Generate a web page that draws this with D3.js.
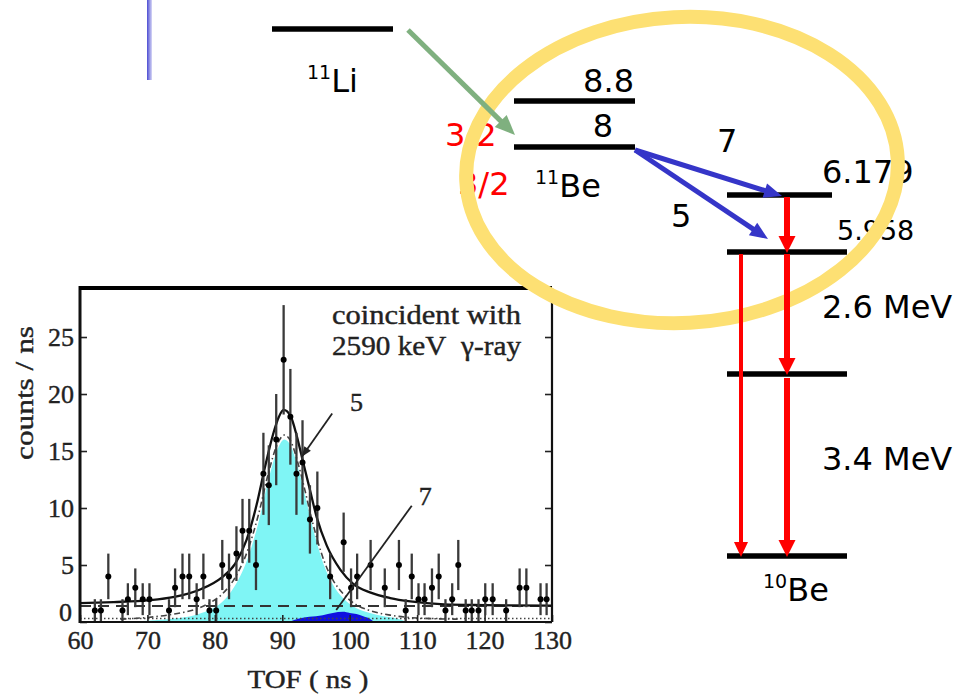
<!DOCTYPE html>
<html><head><meta charset="utf-8">
<script src="https://cdn.jsdelivr.net/npm/d3@7"></script>
<style>
html,body{margin:0;padding:0;background:#fff;}
svg{display:block;}
</style></head>
<body>
<svg id="c" width="956" height="695"></svg>
<script>
// ================= spectrum data (TOF coincident with 2590 keV gamma) =================
const tof = [62.2,63.1,64.2,66.3,67.1,68.2,69.3,70.3,73.2,74.1,75.2,76.2,77.3,78.3,79.2,80.2,
  81.1,82.1,83.2,84.1,85.1,86.1,87.2,88.0,89.1,90.2,91.2,92.1,93.0,94.1,95.2,97.1,99.1,100.2,
  101.1,103.1,105.2,107.3,108.3,109.2,110.2,111.1,112.2,113.2,114.2,115.2,116.1,117.2,118.1,
  119.1,120.1,121.2,123.2,125.2,126.2,128.3,129.2];
const counts = [1,1,4,1,2,3,2,2, 1,3,4,4,2,4,1,1, 5,4,6,8,8,5, 13,12,16,23,18,13,14,9,10,
  4,7,3,4,5,3,5,1,4, 2,2,3,4,1,2,5, 1,1,1,2,2,1, 3,3,2,2];
const countErr = [1,1,2,1,1.4,1.7,1.4,1.4, 1,1.7,2,2,1.4,2,1,1, 2.2,2,2.4,2.8,2.8,2.2,
  3.6,3.5,4,4.8,4.2,3.6,3.7,3,3.2, 2,2.6,1.7,2,2.2,1.7,2.2,1,2, 1.4,1.4,1.7,2,1,1.4,2.2,
  1,1,1,1.4,1.4,1, 1.7,1.7,1.4,1.4];
// total fit (solid)
const fitTotal = [[60,1.65],[65,1.75],[70,1.9],[74,2.2],[78,2.9],[81,3.9],[83,5.1],[84.7,7.2],
  [86.2,10.3],[87.4,13.5],[88.7,16.6],[89.5,18.0],[90.2,18.6],[91.2,18.1],[92.2,16.2],[93.1,14.0],
  [94.1,11.6],[95.1,9.2],[96.6,6.7],[98.6,4.6],[100.6,3.3],[103,2.6],[106,2.1],[109,1.8],
  [114,1.55],[120,1.48],[130,1.43]];
// peak-5 component (dash-dot)
const fitPeak5 = [[66,0.25],[70,0.4],[74,0.7],[77,1.1],[79,1.6],[81,2.4],[83,3.9],[85,6.5],
  [86.5,9.5],[88,13.2],[89.2,15.5],[90.3,16.4],[91.3,15.8],[92.3,14.0],[93.3,11.7],[94.3,9.2],
  [95.3,7.0],[96.3,5.2],[97.5,3.7],[99,2.5],[101,1.5],[103,1.0],[106,0.6],[110,0.35],[116,0.25]];
// filled component 5 (cyan)
const area5 = [[67,0],[70,0.1],[74,0.3],[77,0.6],[79,1.0],[81,1.7],[83,3.2],[85,5.8],[86.5,8.8],
  [88,12.6],[89.2,15.0],[90.3,16.0],[91.3,15.4],[92.3,13.6],[93.3,11.3],[94.3,8.8],[95.3,6.6],
  [96.3,4.8],[97.5,3.3],[99,2.1],[101,1.2],[103,0.8],[105,0.5],[107,0.3],[108.5,0]];
// filled component 7 (blue)
const area7 = [[91,0],[92.5,0.3],[94,0.45],[96,0.6],[97.5,0.8],[99,0.9],[100,0.8],[101,0.7],
  [102,0.5],[103.2,0.2],[103.6,0]];
const bgLevel = [[60,1.4],[130,1.4]];
const floorLevel = [[60,0.3],[130,0.3]];
const xTicks = [60,70,80,90,100,110,120,130];
const yTicks = [0,5,10,15,20,25];
const legendLines = ["coincident with", "2590 keV\u00a0\u00a0\u03b3-ray"];
const xTitle = "TOF ( ns )";
const yTitle = "counts / ns";
const peakNotes = [
  {text:"5", at:[101.0,18.5], from:[97.4,18.3], to:[92.9,14.5], head:true},
  {text:"7", at:[111.2,10.3], from:[109.2,10.2], to:[98.0,1.05], head:false}
];

// ================= level scheme data =================
const levelIds = ["Li11","Be11_8.8","Be11_8","Be10_6.179","Be10_5.958","Be10_3.368","Be10_0"];
const levelEnergyText = ["", "8.8", "8", "6.179", "5.958", "", ""];
const nuclei = [{mass:"11", sym:"Li"}, {mass:"11", sym:"Be"}, {mass:"10", sym:"Be"}];
const spinLabels = ["3/2", "3/2"];
const neutronBranches = [{label:"7", to:"Be10_6.179"}, {label:"5", to:"Be10_5.958"}];
const gammaLines = [
  {from:"Be10_6.179", to:"Be10_5.958", kind:"thick"},
  {from:"Be10_5.958", to:"Be10_3.368", kind:"thick"},
  {from:"Be10_3.368", to:"Be10_0", kind:"thick"},
  {from:"Be10_5.958", to:"Be10_0", kind:"thin"}
];
const gammaLabels = ["2.6 MeV", "3.4 MeV"];

// ================= drawing =================
const svg = d3.select("#c");

// decorative slide bar
const defs = svg.append("defs");
const lg = defs.append("linearGradient").attr("id","bar").attr("x1","0").attr("x2","1");
lg.append("stop").attr("offset","0").attr("stop-color","#4b4bd2");
lg.append("stop").attr("offset","1").attr("stop-color","#d8d8f6");
svg.append("rect").attr("x",147).attr("y",0).attr("width",5).attr("height",80).attr("fill","url(#bar)");

// ---------- spectrum ----------
const x = d3.scaleLinear().domain([60,130]).range([80,552]);
const y = d3.scaleLinear().domain([0,29.3]).range([622,288]);
const sp = svg.append("g");
defs.append("clipPath").attr("id","plot").append("rect")
  .attr("x",80).attr("y",288).attr("width",472).attr("height",334);
const plot = sp.append("g").attr("clip-path","url(#plot)");

const area = d3.area().x(d=>x(d[0])).y0(y(0)).y1(d=>y(d[1])).curve(d3.curveMonotoneX);
const line = d3.line().x(d=>x(d[0])).y(d=>y(d[1])).curve(d3.curveMonotoneX);

plot.append("path").attr("d",area(area5)).attr("fill","#7ff5f5");
plot.append("path").attr("d",area(area7)).attr("fill","#1010e0");
plot.append("path").attr("d",line(floorLevel)).attr("fill","none").attr("stroke","#444")
  .attr("stroke-width",1.5).attr("stroke-dasharray","1.5,2.5");
plot.append("path").attr("d",line(bgLevel)).attr("fill","none").attr("stroke","#333")
  .attr("stroke-width",2).attr("stroke-dasharray","11,7");
plot.append("path").attr("d",line(fitPeak5)).attr("fill","none").attr("stroke","#444")
  .attr("stroke-width",1.6).attr("stroke-dasharray","6,3,1.5,3");
plot.append("path").attr("d",line(fitTotal)).attr("fill","none").attr("stroke","#111")
  .attr("stroke-width",2.3);

// error bars and points
const pts = tof.map((t,i)=>({t, c:counts[i], e:countErr[i]}));
plot.selectAll("line.err").data(pts).enter().append("line").attr("class","err")
  .attr("x1",d=>x(d.t)).attr("x2",d=>x(d.t))
  .attr("y1",d=>y(Math.max(0,d.c-d.e))).attr("y2",d=>y(d.c+d.e))
  .attr("stroke","#3a3a3a").attr("stroke-width",2.3);
plot.selectAll("circle.pt").data(pts).enter().append("circle").attr("class","pt")
  .attr("cx",d=>x(d.t)).attr("cy",d=>y(d.c)).attr("r",3).attr("fill","#000");

// annotations 5 and 7
const serif = "'Liberation Serif', 'DejaVu Serif', serif";
peakNotes.forEach(n=>{
  sp.append("line").attr("x1",x(n.from[0])).attr("y1",y(n.from[1]))
    .attr("x2",x(n.to[0])).attr("y2",y(n.to[1])).attr("stroke","#222").attr("stroke-width",1.8);
  if(n.head){
    const ang = Math.atan2(y(n.to[1])-y(n.from[1]), x(n.to[0])-x(n.from[0]));
    const L=10, W=4;
    const tx=x(n.to[0]), ty=y(n.to[1]);
    const bx=tx-L*Math.cos(ang), by=ty-L*Math.sin(ang);
    sp.append("path").attr("d",`M${tx},${ty}L${bx-W*Math.sin(ang)},${by+W*Math.cos(ang)}L${bx+W*Math.sin(ang)},${by-W*Math.cos(ang)}Z`).attr("fill","#222");
  }
  sp.append("text").attr("x",x(n.at[0])).attr("y",y(n.at[1])).attr("text-anchor","middle")
    .attr("font-family",serif).attr("font-size",26).attr("fill","#222")
    .attr("stroke","#222").attr("stroke-width",0.4).text(n.text);
});

// legend text
sp.selectAll("text.leg").data(legendLines).enter().append("text").attr("class","leg")
  .attr("x",332).attr("y",(d,i)=>324+i*31).attr("font-family",serif).attr("font-size",27)
  .attr("fill","#222").attr("stroke","#222").attr("stroke-width",0.4)
  .attr("textLength",189).attr("lengthAdjust","spacingAndGlyphs").text(d=>d);

// axes
const xAxis = d3.axisBottom(x).tickValues(xTicks).tickSize(-7).tickPadding(9).tickFormat(d3.format("d"));
const gx = sp.append("g").attr("transform",`translate(0,${y(0)})`).call(xAxis);
gx.select(".domain").remove();
gx.selectAll("line").attr("stroke","#222").attr("stroke-width",1.6);
gx.selectAll("text").attr("font-family",serif).attr("font-size",26).attr("fill","#222")
  .attr("stroke","#222").attr("stroke-width",0.4);
const yAxis = d3.axisLeft(y).tickValues(yTicks).tickSize(-7).tickPadding(6).tickFormat(d3.format("d"));
const gy = sp.append("g").attr("transform",`translate(${x(60)},0)`).call(yAxis);
gy.select(".domain").remove();
gy.selectAll("line").attr("stroke","#222").attr("stroke-width",1.6);
gy.selectAll("text").attr("font-family",serif).attr("font-size",26).attr("fill","#222")
  .attr("stroke","#222").attr("stroke-width",0.4);
gy.selectAll(".tick").filter(d=>d===0).select("text").attr("dy","-0.05em").attr("dx","-2");
const yAxisR = d3.axisRight(y).tickValues(yTicks).tickSize(-7).tickFormat("");
const gyr = sp.append("g").attr("transform",`translate(${x(130)},0)`).call(yAxisR);
gyr.select(".domain").remove();
gyr.selectAll("line").attr("stroke","#222").attr("stroke-width",1.6);

// frame
sp.append("line").attr("x1",x(60)).attr("x2",x(60)).attr("y1",y(29.3)-2).attr("y2",y(0)+1).attr("stroke","#111").attr("stroke-width",3);
sp.append("line").attr("x1",x(60)).attr("x2",x(130)).attr("y1",y(0)).attr("y2",y(0)).attr("stroke","#111").attr("stroke-width",2.2);
sp.append("line").attr("x1",x(130)).attr("x2",x(130)).attr("y1",y(29.3)).attr("y2",y(0)).attr("stroke","#111").attr("stroke-width",2.2);
sp.append("line").attr("x1",x(60)-1).attr("x2",x(130)).attr("y1",y(29.3)).attr("y2",y(29.3)).attr("stroke","#000").attr("stroke-width",4);

// titles
sp.append("text").attr("x",308).attr("y",688).attr("text-anchor","middle")
  .attr("font-family",serif).attr("font-size",26).attr("fill","#222")
  .attr("stroke","#222").attr("stroke-width",0.4)
  .attr("textLength",121).attr("lengthAdjust","spacingAndGlyphs").text(xTitle);
sp.append("text").attr("transform","translate(33,393) rotate(-90)").attr("text-anchor","middle")
  .attr("font-family",serif).attr("font-size",26).attr("fill","#222")
  .attr("stroke","#222").attr("stroke-width",0.4)
  .attr("textLength",134).attr("lengthAdjust","spacingAndGlyphs").text(yTitle);

// ---------- level scheme ----------
const sans = "'DejaVu Sans', Verdana, sans-serif";
const levelY = d3.scaleOrdinal().domain(levelIds).range([29,101,147,195,252,374,556]);
const levelX0 = d3.scaleOrdinal().domain(levelIds).range([272,514,514,727,727,727,727]);
const levelX1 = d3.scaleOrdinal().domain(levelIds).range([393,635,635,832,847,847,847]);
const gammaX = d3.scaleOrdinal().domain(["thick","thin"]).range([787,741]);
const gammaW = d3.scaleOrdinal().domain(["thick","thin"]).range([6,4]);
const gammaHead = d3.scaleOrdinal().domain(["thick","thin"]).range([[17,17],[15,14]]);

const ls = svg.append("g");

// red spin labels (under the ellipse)
ls.selectAll("text.spin").data(spinLabels).enter().append("text").attr("class","spin")
  .attr("x",(d,i)=>[445,458][i]).attr("y",(d,i)=>[146,195][i])
  .attr("font-family",sans).attr("font-size",32).attr("fill","#ff0000").text(d=>d);

// energy labels
const eLabPos = {"Be11_8.8":[634,92,"end",32],"Be11_8":[613,137,"end",32],
  "Be10_6.179":[822,183,"start",32],"Be10_5.958":[837,240,"start",27]};
levelIds.forEach((id,i)=>{
  if(!levelEnergyText[i]) return;
  const p = eLabPos[id];
  ls.append("text").attr("x",p[0]).attr("y",p[1]).attr("text-anchor",p[2])
    .attr("font-family",sans).attr("font-size",p[3]).attr("fill","#000").text(levelEnergyText[i]);
});
// gamma energy labels
ls.selectAll("text.gl").data(gammaLabels).enter().append("text").attr("class","gl")
  .attr("x",822).attr("y",(d,i)=>[318,470][i]).attr("font-family",sans).attr("font-size",32)
  .attr("fill","#000").text(d=>d);
// nucleus labels
const nucPos = [[307,92],[535,197],[763,601]];
nuclei.forEach((n,i)=>{
  const t = ls.append("text").attr("x",nucPos[i][0]).attr("y",nucPos[i][1])
    .attr("font-family",sans).attr("fill","#000");
  t.append("tspan").attr("font-size",19).attr("dy",-13).text(n.mass);
  t.append("tspan").attr("font-size",32).attr("dy",13).text(n.sym);
});
// neutron energy labels
ls.selectAll("text.nl").data(neutronBranches).enter().append("text").attr("class","nl")
  .attr("x",(d,i)=>[717,671][i]).attr("y",(d,i)=>[152,227][i])
  .attr("font-family",sans).attr("font-size",32).attr("fill","#000").text(d=>d.label);

// levels
ls.selectAll("line.lev").data(levelIds).enter().append("line").attr("class","lev")
  .attr("x1",d=>levelX0(d)).attr("x2",d=>levelX1(d))
  .attr("y1",d=>levelY(d)).attr("y2",d=>levelY(d))
  .attr("stroke","#000").attr("stroke-width",5.5);

// yellow ellipse
svg.append("ellipse").attr("cx",682).attr("cy",170).attr("rx",216).attr("ry",153)
  .attr("transform","rotate(-3,682,170)")
  .attr("fill","none").attr("stroke","#fde073").attr("stroke-width",14);

// arrows
function arrow(g,x1,y1,x2,y2,color,w,hl,hw){
  const a=Math.atan2(y2-y1,x2-x1), c=Math.cos(a), s=Math.sin(a);
  const bx=x2-hl*c, by=y2-hl*s;
  g.append("line").attr("x1",x1).attr("y1",y1).attr("x2",bx+2*c).attr("y2",by+2*s)
    .attr("stroke",color).attr("stroke-width",w);
  g.append("path").attr("d",`M${x2},${y2}L${bx-hw/2*s},${by+hw/2*c}L${bx+hw/2*s},${by-hw/2*c}Z`)
    .attr("fill",color);
}
const ar = svg.append("g");
// beta decay 11Li -> 11Be*
arrow(ar, levelX1("Li11")+15, levelY("Li11")+1, levelX0("Be11_8")+1, levelY("Be11_8")-12, "#7fb07f", 5, 20, 17);
// neutron emission
const nTip = {"Be10_6.179":[782,196],"Be10_5.958":[768,239]};
neutronBranches.forEach(b=>{
  arrow(ar, levelX1("Be11_8"), levelY("Be11_8")+3, nTip[b.to][0], nTip[b.to][1], "#3535c8", 5, 18, 15);
});
// gamma transitions
gammaLines.forEach(gl=>{
  const y1 = levelY(gl.from) + (gl.from==="Be10_3.368" ? 4 : 2);
  const hh = gammaHead(gl.kind);
  arrow(ar, gammaX(gl.kind), y1, gammaX(gl.kind), levelY(gl.to)+1, "#ff0000", gammaW(gl.kind), hh[0], hh[1]);
});
</script>
</body></html>
